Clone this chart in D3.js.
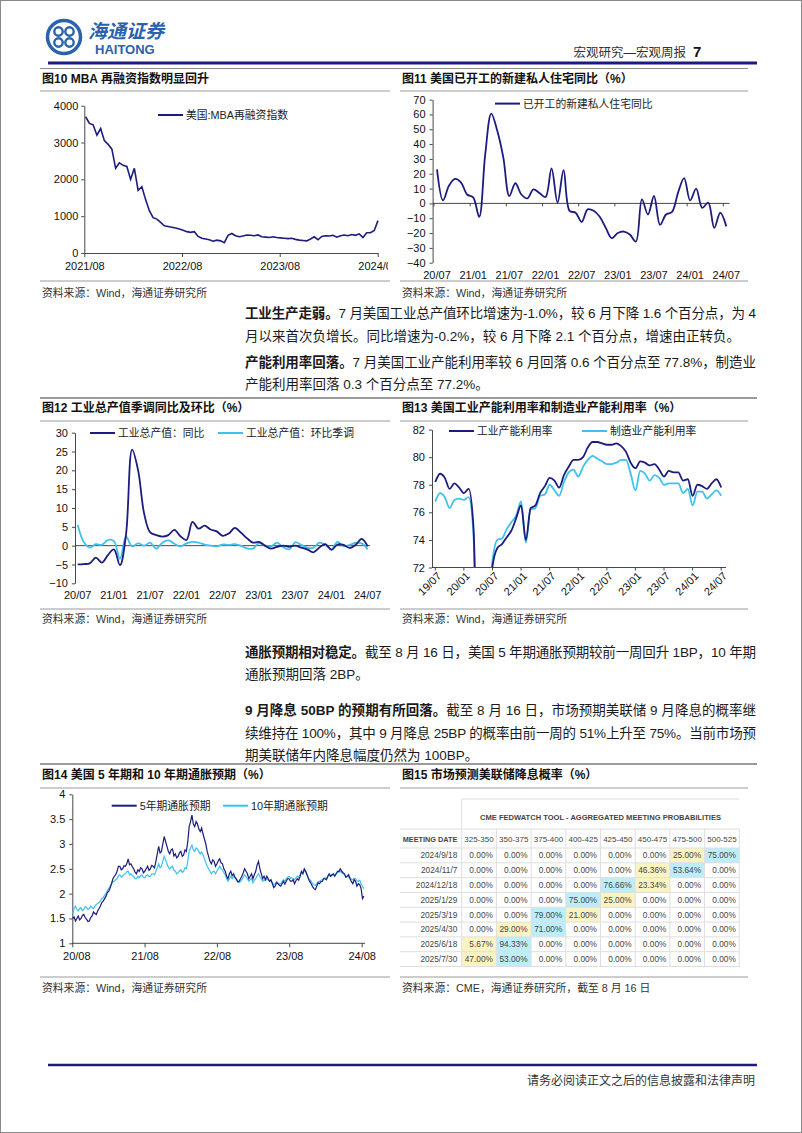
<!DOCTYPE html>
<html><head><meta charset="utf-8"><title>海通证券 宏观周报</title>
<script src="https://cdn.jsdelivr.net/npm/d3@7/dist/d3.min.js"></script>
<style>html,body{margin:0;padding:0;background:#fff}svg{display:block}</style>
</head><body>
<svg id="page" width="802" height="1133" xmlns="http://www.w3.org/2000/svg"></svg>
<script>
// ================= DATA =================
// Fig 10: MBA refinance index (bi-weekly)
const mbaStart = "2021-08-06";
const mbaValues = [3700,3520,3480,3200,3380,3050,2950,2820,2300,2450,
  2380,2350,2000,2300,1700,1800,1450,1150,960,920,
  830,740,720,700,680,650,620,580,560,580,
  450,400,380,360,320,350,330,280,480,530,
  470,440,460,490,480,470,490,440,430,420,
  440,420,410,400,390,400,370,350,340,330,
  380,440,360,450,470,460,480,430,470,490,
  470,500,480,520,420,550,550,610,880];
const mbaTicks = [0,1000,2000,3000,4000];
const mbaDateTicks = ["2021/08","2022/08","2023/08","2024/08"];

// Fig 11: housing starts YoY (monthly 2020/07 - 2024/07)
const monthLabels = ["20/07","21/01","21/07","22/01","22/07","23/01","23/07","24/01","24/07"];
const housingYoY = [23,2,12,16.5,14,6,4,-9,33,60.5,
  49,31,5,13.6,6,3.4,9.5,7,4.3,23.6,
  0.5,22.5,-5,-6.3,-12.5,-4,-5,-9,-16.5,-23.5,
  -20,-19,-21,-25.7,2.7,-7.5,5,-14.5,-7.5,-5.7,
  7.3,17,2,10,-3,0.5,-16.5,-6.3,-15.5];
const housingTicks = [-40,-30,-20,-10,0,10,20,30,40,50,60,70];

// Fig 12: industrial production YoY and MoM (monthly 2020/07 - 2024/07)
const ipYoY = [-5,-4.9,-4.7,-3.2,-4.5,-2.5,-1,-5.2,3,25.5,
  20,8.5,3.5,2.8,2.4,2.8,4.2,2.5,1.5,6.3,
  4.5,5.3,4.3,3.8,2.6,3.2,4.7,3.5,2.0,0.8,
  1.0,0,-0.8,-0.3,0,-0.3,0,-0.5,-1.0,-1.8,
  -0.5,0.4,-1.1,0.3,0.2,-0.6,0.2,1.8,-0.2];
const ipMoM = [5.5,1,-0.5,0.4,0.2,1.5,1.2,-3.5,2.4,-0.2,
  0.6,0,0.8,-0.8,0.8,1.4,0.5,-0.2,0.6,1.0,
  0.8,0.3,0,-0.2,0.3,0.2,0.4,0,-0.7,-0.8,
  0.7,0,-0.2,0.8,-0.4,-1.0,0.9,0.2,-0.5,-0.6,
  0.8,0.2,-1.0,1.0,-0.2,0.2,0.7,0.6,-1.0];
const ipTicks = [-10,-5,0,5,10,15,20,25,30];

// Fig 13: capacity utilisation (monthly 2019/07 - 2024/07)
const cuLabels = ["19/07","20/01","20/07","21/01","21/07","22/01","22/07","23/01","23/07","24/01","24/07"];
const cuTotal = [78.2,78.8,78.5,77.7,78.1,77.8,77.4,77.7,75.0,64.2,
  65.5,68.8,72.1,73.4,73.7,74.2,74.7,75.6,76.5,74.0,
  76.3,76.5,77.4,77.9,78.5,78.3,77.8,78.7,79.3,79.8,
  79.8,80.0,80.7,81.1,81.1,81.0,80.9,80.9,81.0,80.8,
  80.4,79.6,79.2,79.7,79.6,79.4,79.5,79.1,78.6,79.0,
  78.9,78.9,78.3,78.4,77.2,78.0,77.9,77.7,78.1,78.4,
  77.8];
const cuMfg = [76.8,77.4,77.1,76.3,76.9,77.0,76.9,77.1,74.5,60.0,
  63.0,68.5,72.5,74.0,74.1,74.8,75.3,75.8,76.8,73.8,
  76.2,76.3,77.2,77.3,78.0,77.6,77.2,78.2,78.9,79.1,
  78.6,79.3,79.8,80.1,79.9,79.7,79.5,79.5,79.6,79.8,
  79.8,78.8,77.6,79.0,78.8,78.3,78.7,78.5,78.0,78.1,
  78.1,78.1,77.4,77.7,76.5,77.5,77.5,77.0,77.3,77.6,
  77.2];
const cuTicks = [72,74,76,78,80,82];

// Fig 14: 5y and 10y breakeven inflation (weekly)
const beStart = "2020-08-03";
const be5 = [1.50,1.53,1.45,1.50,1.55,1.47,1.50,1.56,1.58,1.52,1.48,1.44,1.45,1.52,1.55,1.63,1.60,1.58,1.65,1.70,
  1.75,1.82,1.85,1.90,1.95,2.02,2.05,2.12,2.20,2.30,2.35,2.38,2.45,2.55,2.55,2.48,2.50,2.56,2.55,2.60,
  2.70,2.58,2.60,2.54,2.50,2.43,2.40,2.48,2.45,2.52,2.50,2.42,2.45,2.50,2.55,2.47,2.50,2.57,2.55,2.52,
  2.65,2.80,2.95,2.82,2.85,3.00,3.15,3.05,2.95,2.85,2.80,2.88,2.90,2.76,2.80,2.72,2.75,2.82,2.85,2.75,
  2.78,2.88,2.85,3.05,3.35,3.45,3.58,3.40,3.35,3.45,3.40,3.30,3.25,3.32,3.20,3.10,3.00,2.85,2.75,2.65,
  2.60,2.68,2.65,2.55,2.60,2.66,2.70,2.62,2.60,2.50,2.45,2.35,2.30,2.40,2.45,2.36,2.40,2.33,2.30,2.24,
  2.25,2.30,2.35,2.42,2.50,2.45,2.40,2.30,2.35,2.40,2.30,2.38,2.45,2.58,2.65,2.50,2.40,2.30,2.35,2.28,
  2.35,2.30,2.25,2.28,2.20,2.12,2.15,2.22,2.20,2.17,2.15,2.20,2.25,2.19,2.25,2.30,2.30,2.25,2.25,2.28,
  2.20,2.26,2.30,2.27,2.35,2.45,2.40,2.50,2.45,2.38,2.30,2.24,2.20,2.14,2.10,2.08,2.15,2.22,2.20,2.24,
  2.25,2.30,2.30,2.28,2.35,2.40,2.35,2.38,2.40,2.35,2.40,2.45,2.45,2.50,2.45,2.42,2.40,2.33,2.35,2.38,
  2.30,2.24,2.20,2.28,2.25,2.15,2.20,2.18,2.10,1.90,1.95];
const be10 = [1.60,1.70,1.75,1.68,1.65,1.70,1.72,1.66,1.68,1.74,1.72,1.68,1.70,1.75,1.72,1.70,1.75,1.78,1.80,1.82,
  1.85,1.90,1.92,1.97,2.00,2.06,2.10,2.15,2.20,2.24,2.25,2.28,2.30,2.36,2.38,2.33,2.35,2.39,2.40,2.44,
  2.45,2.38,2.40,2.36,2.35,2.30,2.30,2.35,2.32,2.36,2.38,2.33,2.32,2.36,2.38,2.34,2.35,2.40,2.40,2.38,
  2.45,2.52,2.60,2.52,2.55,2.66,2.75,2.68,2.60,2.53,2.50,2.53,2.55,2.47,2.45,2.40,2.42,2.46,2.48,2.43,
  2.45,2.52,2.50,2.66,2.85,2.92,2.98,2.88,2.85,2.92,2.90,2.84,2.80,2.84,2.78,2.70,2.62,2.55,2.50,2.45,
  2.40,2.44,2.45,2.40,2.45,2.50,2.55,2.50,2.48,2.42,2.38,2.30,2.25,2.30,2.35,2.30,2.35,2.31,2.28,2.24,
  2.22,2.25,2.28,2.33,2.38,2.34,2.30,2.25,2.28,2.31,2.22,2.27,2.30,2.36,2.40,2.34,2.30,2.25,2.28,2.26,
  2.30,2.28,2.25,2.26,2.22,2.18,2.20,2.24,2.22,2.19,2.20,2.24,2.28,2.25,2.30,2.33,2.35,2.31,2.32,2.30,
  2.28,2.32,2.35,2.33,2.38,2.43,2.40,2.46,2.45,2.38,2.32,2.28,2.25,2.20,2.18,2.17,2.20,2.24,2.25,2.27,
  2.28,2.31,2.32,2.30,2.35,2.37,2.35,2.36,2.38,2.36,2.40,2.42,2.43,2.45,2.42,2.40,2.38,2.34,2.35,2.33,
  2.32,2.29,2.28,2.31,2.30,2.26,2.25,2.27,2.20,2.15,2.10];
const beTicks = [1,1.5,2,2.5,3,3.5,4];
const beDateTicks = ["20/08","21/08","22/08","23/08","24/08"];

// Fig 15: CME FedWatch probabilities
const fedDates = ["2024/9/18","2024/11/7","2024/12/18","2025/1/29","2025/3/19","2025/4/30","2025/6/18","2025/7/30"];
const fedRanges = ["325-350","350-375","375-400","400-425","425-450","450-475","475-500","500-525"];
const fedProbs = [
  [0,0,0,0,0,0,25,75],
  [0,0,0,0,0,46.36,53.64,0],
  [0,0,0,0,76.66,23.34,0,0],
  [0,0,0,75,25,0,0,0],
  [0,0,79,21,0,0,0,0],
  [0,29,71,0,0,0,0,0],
  [5.67,94.33,0,0,0,0,0,0],
  [47,53,0,0,0,0,0,0]];

// ================= DRAWING =================
const svg = d3.select('#page');
const NAVY = '#1c1c7e', CYAN = '#3dc1ed';
const FL = '"Liberation Sans", Arial, "Noto Sans CJK SC", sans-serif';
const FC = '"Liberation Sans", Arial, "Noto Sans CJK SC", sans-serif';
const defs = svg.append('defs');

svg.append('rect').attr('x',0).attr('y',0).attr('width',802).attr('height',1133).attr('fill','#fff');
svg.append('rect').attr('x',0.5).attr('y',0.5).attr('width',801).attr('height',1132)
  .attr('fill','none').attr('stroke','#8a8a8a').attr('stroke-width',1);

function hline(x1,x2,y,c,w){ svg.append('line').attr('x1',x1).attr('x2',x2).attr('y1',y).attr('y2',y).attr('stroke',c).attr('stroke-width',w); }
function text(parent,x,y,s,o={}){
  const t = parent.append('text').attr('x',x).attr('y',y).text(s)
    .style('font-family',o.ff||FC).style('font-size',(o.fs||11)+'px')
    .attr('fill',o.fill||'#222').attr('text-anchor',o.anchor||'start');
  if(o.bold) t.style('font-weight','bold');
  return t;
}
function styleAxis(g){
  g.select('.domain').attr('stroke','#333').attr('stroke-width',0.9);
  g.selectAll('.tick line').attr('stroke','#333').attr('stroke-width',0.9);
  g.selectAll('.tick text').attr('fill','#111').style('font-family',FL).style('font-size','11px');
}
function legend(parent,x,y,color,label){
  parent.append('line').attr('x1',x).attr('x2',x+25).attr('y1',y).attr('y2',y).attr('stroke',color).attr('stroke-width',2);
  text(parent,x+28,y+4,label,{fs:10.8,fill:'#222'});
}
function clip(id,x,y,w,h){ defs.append('clipPath').attr('id',id).append('rect').attr('x',x).attr('y',y).attr('width',w).attr('height',h); }

// ---------- header ----------
const logo = svg.append('g');
logo.append('circle').attr('cx',64).attr('cy',37).attr('r',16.5).attr('fill','none').attr('stroke','#2a62ad').attr('stroke-width',3.5);
[[58.5,31.5],[69.5,31.5],[58.5,42.5],[69.5,42.5]].forEach(p=>{
  logo.append('circle').attr('cx',p[0]).attr('cy',p[1]).attr('r',4.2).attr('fill','none').attr('stroke','#2a62ad').attr('stroke-width',2.4);
});
text(logo,88,38,'海通证券',{fs:19,fill:'#2a62ad',bold:true}).style('font-style','italic');
text(logo,95,54,'HAITONG',{ff:FL,fs:13,fill:'#2a62ad',bold:true});
text(svg,686,57,'宏观研究—宏观周报',{fs:12.5,fill:'#333',anchor:'end'});
text(svg,693,57,'7',{ff:FL,fs:15,fill:'#111',bold:true});
hline(48,757,63,'#1c1c7e',3);
hline(40,748,68.5,'#8c8c8c',1);

// ---------- footer ----------
hline(48,757,1065,'#1c1c7e',2.5);
text(svg,755,1085,'请务必阅读正文之后的信息披露和法律声明',{fs:12,fill:'#333',anchor:'end'});

// ---------- panel frames ----------
function frame(x0,x1,titleBase,under,srcLine,srcBase,title,src){
  text(svg,x0+2,titleBase,title,{fs:12,bold:true,fill:'#111'});
  hline(x0,x1,under,'#9a9a9a',1);
  hline(x0,x1,srcLine,'#9a9a9a',1);
  text(svg,x0+2,srcBase,src,{fs:10.8,fill:'#333'});
}
frame(40,390,82.5,91,281,297,'图10 MBA 再融资指数明显回升','资料来源：Wind，海通证券研究所');
frame(400,748,82.5,91,281,297,'图11 美国已开工的新建私人住宅同比（%）','资料来源：Wind，海通证券研究所');
hline(40,757,398,'#7a7a7a',1.5);
frame(40,390,412,421,609,623,'图12 工业总产值季调同比及环比（%）','资料来源：Wind，海通证券研究所');
frame(400,748,412,421,609,623,'图13 美国工业产能利用率和制造业产能利用率（%）','资料来源：Wind，海通证券研究所');
hline(40,757,764,'#7a7a7a',1.5);
frame(40,390,779,788,977,991.5,'图14 美国 5 年期和 10 年期通胀预期（%）','资料来源：Wind，海通证券研究所');
frame(400,748,779,788,977,991.5,'图15 市场预测美联储降息概率（%）','资料来源：CME，海通证券研究所，截至 8 月 16 日');

// ---------- paragraphs ----------
const paraLines = [
  {y:318, parts:[['工业生产走弱。',1],['7 月美国工业总产值环比增速为-1.0%，较 6 月下降 1.6 个百分点，为 4',0]], full:true},
  {y:341, parts:[['月以来首次负增长。同比增速为-0.2%，较 6 月下降 2.1 个百分点，增速由正转负。',0]], full:false},
  {y:367, parts:[['产能利用率回落。',1],['7 月美国工业产能利用率较 6 月回落 0.6 个百分点至 77.8%，制造业',0]], full:true},
  {y:389, parts:[['产能利用率回落 0.3 个百分点至 77.2%。',0]], full:false},
  {y:657, parts:[['通胀预期相对稳定。',1],['截至 8 月 16 日，美国 5 年期通胀预期较前一周回升 1BP，10 年期',0]], full:true},
  {y:679, parts:[['通胀预期回落 2BP。',0]], full:false},
  {y:715, parts:[['9 月降息 50BP 的预期有所回落。',1],['截至 8 月 16 日，市场预期美联储 9 月降息的概率继',0]], full:true},
  {y:738, parts:[['续维持在 100%，其中 9 月降息 25BP 的概率由前一周的 51%上升至 75%。当前市场预',0]], full:true},
  {y:760, parts:[['期美联储年内降息幅度仍然为 100BP。',0]], full:false}
];
paraLines.forEach(l=>{
  const t = svg.append('text').attr('x',245).attr('y',l.y).style('font-family',FC).style('font-size','13.5px').attr('fill','#1a1a1a');
  l.parts.forEach(p=>{ const ts=t.append('tspan').text(p[0]); if(p[1]) ts.style('font-weight','bold'); });
  if(l.full) t.attr('textLength',511).attr('lengthAdjust','spacing');
});

// ---------- Fig 10 ----------
{
  clip('clip10',40,92,348,188);
  const g = svg.append('g').attr('clip-path','url(#clip10)');
  const parseYM = d3.timeParse('%Y/%m');
  const start = d3.timeParse('%Y-%m-%d')(mbaStart);
  const x = d3.scaleTime().domain([parseYM('2021/08'), parseYM('2024/08')]).range([84.3,377.7]);
  const y = d3.scaleLinear().domain([0,4000]).range([253,105.7]);
  const ay = g.append('g').attr('transform','translate(84.3,0)')
    .call(d3.axisLeft(y).tickValues(mbaTicks).tickSize(3).tickSizeOuter(0).tickPadding(3).tickFormat(d3.format('d')));
  styleAxis(ay);
  const ax = g.append('g').attr('transform','translate(0,253)')
    .call(d3.axisBottom(x).tickValues(mbaDateTicks.map(parseYM)).tickFormat(d3.timeFormat('%Y/%m')).tickSize(4).tickSizeOuter(0).tickPadding(5));
  styleAxis(ax);
  const line = d3.line().x((d,i)=>x(d3.timeDay.offset(start,14*i))).y(d=>y(d));
  g.append('path').datum(mbaValues).attr('d',line).attr('fill','none').attr('stroke',NAVY).attr('stroke-width',1.6);
  legend(g,158,115,NAVY,'美国:MBA再融资指数');
}

// ---------- Fig 11 ----------
{
  const g = svg.append('g');
  const x = d3.scaleLinear().domain([0,housingYoY.length-1]).range([437,726.3]);
  const y = d3.scaleLinear().domain([-40,70]).range([262.7,99.6]);
  const ay = g.append('g').attr('transform','translate(432.6,0)')
    .call(d3.axisLeft(y).tickValues(housingTicks).tickSize(3).tickSizeOuter(0).tickPadding(4));
  styleAxis(ay);
  g.append('line').attr('x1',432.6).attr('x2',729.6).attr('y1',y(0)).attr('y2',y(0)).attr('stroke','#333').attr('stroke-width',0.9);
  monthLabels.forEach((lab,k)=>{
    const xi = x(k*6);
    g.append('line').attr('x1',xi-3).attr('x2',xi-3).attr('y1',y(0)).attr('y2',y(0)+3).attr('stroke','#333').attr('stroke-width',0.9);
    text(g,xi,278.5,lab,{ff:FL,fs:11,anchor:'middle',fill:'#111'});
  });
  const line = d3.line().x((d,i)=>x(i)).y(d=>y(d)).curve(d3.curveCatmullRom.alpha(0.5));
  g.append('path').datum(housingYoY).attr('d',line).attr('fill','none').attr('stroke',NAVY).attr('stroke-width',1.8);
  legend(g,495,103.6,NAVY,'已开工的新建私人住宅同比');
}

// ---------- Fig 12 ----------
{
  const g = svg.append('g');
  const x = d3.scaleLinear().domain([0,ipYoY.length-1]).range([77.7,367.7]);
  const y = d3.scaleLinear().domain([-10,30]).range([583.3,432.7]);
  const ay = g.append('g').attr('transform','translate(75,0)')
    .call(d3.axisLeft(y).tickValues(ipTicks).tickSize(3).tickSizeOuter(0).tickPadding(4));
  styleAxis(ay);
  g.append('line').attr('x1',75).attr('x2',370).attr('y1',y(0)).attr('y2',y(0)).attr('stroke','#333').attr('stroke-width',0.9);
  monthLabels.forEach((lab,k)=>{
    const xi = x(k*6);
    text(g,xi,599,lab,{ff:FL,fs:11,anchor:'middle',fill:'#111'});
  });
  const line = d3.line().x((d,i)=>x(i)).y(d=>y(d)).curve(d3.curveCatmullRom.alpha(0.5));
  g.append('path').datum(ipMoM).attr('d',line).attr('fill','none').attr('stroke',CYAN).attr('stroke-width',1.8);
  g.append('path').datum(ipYoY).attr('d',line).attr('fill','none').attr('stroke',NAVY).attr('stroke-width',1.8);
  legend(g,90,433,NAVY,'工业总产值：同比');
  legend(g,218,433,CYAN,'工业总产值：环比季调');
}

// ---------- Fig 13 ----------
{
  clip('clip13',432,425,300,142.5);
  const g = svg.append('g');
  const x = d3.scaleLinear().domain([0,cuTotal.length-1]).range([435.3,721.2]);
  const y = d3.scaleLinear().domain([72,82]).range([567.5,429.6]);
  const ay = g.append('g').attr('transform','translate(432,0)')
    .call(d3.axisLeft(y).tickValues(cuTicks).tickSize(3).tickSizeOuter(0).tickPadding(4));
  styleAxis(ay);
  g.append('line').attr('x1',432).attr('x2',726).attr('y1',567.5).attr('y2',567.5).attr('stroke','#333').attr('stroke-width',0.9);
  cuLabels.forEach((lab,k)=>{
    const xi = x(k*6);
    g.append('line').attr('x1',xi).attr('x2',xi).attr('y1',567.5).attr('y2',570.5).attr('stroke','#333').attr('stroke-width',0.9);
    g.append('text').attr('transform',`translate(${xi+4},${574}) rotate(-45)`).attr('text-anchor','end').attr('dy','0.35em')
      .style('font-family',FL).style('font-size','11px').attr('fill','#111').text(lab);
  });
  const pg = g.append('g').attr('clip-path','url(#clip13)');
  const line = d3.line().x((d,i)=>x(i)).y(d=>y(d)).curve(d3.curveMonotoneX);
  pg.append('path').datum(cuMfg).attr('d',line).attr('fill','none').attr('stroke',CYAN).attr('stroke-width',1.8);
  pg.append('path').datum(cuTotal).attr('d',line).attr('fill','none').attr('stroke',NAVY).attr('stroke-width',1.8);
  legend(g,449,431,NAVY,'工业产能利用率');
  legend(g,582,431,CYAN,'制造业产能利用率');
}

// ---------- Fig 14 ----------
{
  const g = svg.append('g');
  const parseYM = d3.timeParse('%y/%m');
  const start = d3.timeParse('%Y-%m-%d')(beStart);
  const x = d3.scaleTime().domain([parseYM('20/08'), parseYM('24/08')]).range([72.3,361.7]);
  const y = d3.scaleLinear().domain([1,4]).range([943.3,794.3]);
  const ay = g.append('g').attr('transform','translate(72.3,0)')
    .call(d3.axisLeft(y).tickValues(beTicks).tickSize(3).tickSizeOuter(0).tickPadding(4).tickFormat(d=>String(d)));
  styleAxis(ay);
  const ax = g.append('g').attr('transform','translate(0,943.3)')
    .call(d3.axisBottom(x).tickValues(beDateTicks.map(parseYM)).tickFormat(d3.timeFormat('%y/%m')).tickSize(4).tickSizeOuter(0).tickPadding(5));
  styleAxis(ax);
  ax.select('.domain').attr('d','M72.3,0H365');
  ax.selectAll('.tick text').filter((d,i)=>i===0).attr('dx','4');
  const line = d3.line().x((d,i)=>x(d3.timeDay.offset(start,7*i))).y(d=>y(d));
  g.append('path').datum(be10).attr('d',line).attr('fill','none').attr('stroke',CYAN).attr('stroke-width',1.2);
  g.append('path').datum(be5).attr('d',line).attr('fill','none').attr('stroke',NAVY).attr('stroke-width',1.2);
  legend(g,111.7,805.7,NAVY,'5年期通胀预期');
  legend(g,223,805.7,CYAN,'10年期通胀预期');
}

// ---------- Fig 15 table ----------
{
  const g = svg.append('g');
  const col = d3.scaleBand().domain(fedRanges).range([461.7,739.3]);
  const row = d3.scaleBand().domain(fedDates).range([848,966.5]);
  const GRID = '#dedede';
  const BLUE = '#bdedf9', YEL = '#fcf3c3';
  fedProbs.forEach((r,ri)=>{
    const mx = d3.max(r);
    r.forEach((v,ci)=>{
      if(v>0){
        g.append('rect').attr('x',col(fedRanges[ci])).attr('y',row(fedDates[ri]))
          .attr('width',col.bandwidth()).attr('height',row.bandwidth()).attr('fill',v===mx?BLUE:YEL);
      }
    });
  });
  const gl = (x1,x2,y1,y2)=>g.append('line').attr('x1',x1).attr('x2',x2).attr('y1',y1).attr('y2',y2).attr('stroke',GRID).attr('stroke-width',1);
  gl(461.7,739.3,799,799);
  gl(400,739.3,829,829);
  gl(400,739.3,848,848);
  fedDates.forEach(d=>gl(400,739.3,row(d)+row.bandwidth(),row(d)+row.bandwidth()));
  gl(461.7,461.7,799,966.5);
  fedRanges.forEach(r=>{ const xe=col(r)+col.bandwidth(); gl(xe,xe,829,966.5); });
  text(g,600.5,820,'CME FEDWATCH TOOL - AGGREGATED MEETING PROBABILITIES',{ff:FL,fs:7.2,bold:true,fill:'#444',anchor:'middle'})
    .attr('textLength',241).attr('lengthAdjust','spacingAndGlyphs');
  text(g,457.3,841.5,'MEETING DATE',{ff:FL,fs:7.3,bold:true,fill:'#444',anchor:'end'});
  fedRanges.forEach(r=>text(g,col(r)+col.bandwidth()/2,841.5,r,{ff:FL,fs:8,fill:'#444',anchor:'middle'}));
  const fmt = d3.format('.2f');
  fedDates.forEach((d,ri)=>{
    const cy = row(d)+row.bandwidth()/2+3;
    text(g,457.3,cy,d,{ff:FL,fs:8.3,fill:'#444',anchor:'end'});
    fedProbs[ri].forEach((v,ci)=>{
      text(g,col(fedRanges[ci])+col.bandwidth()-3.5,cy,fmt(v)+'%',{ff:FL,fs:8.3,fill:'#444',anchor:'end'});
    });
  });
}
</script>
</body></html>
